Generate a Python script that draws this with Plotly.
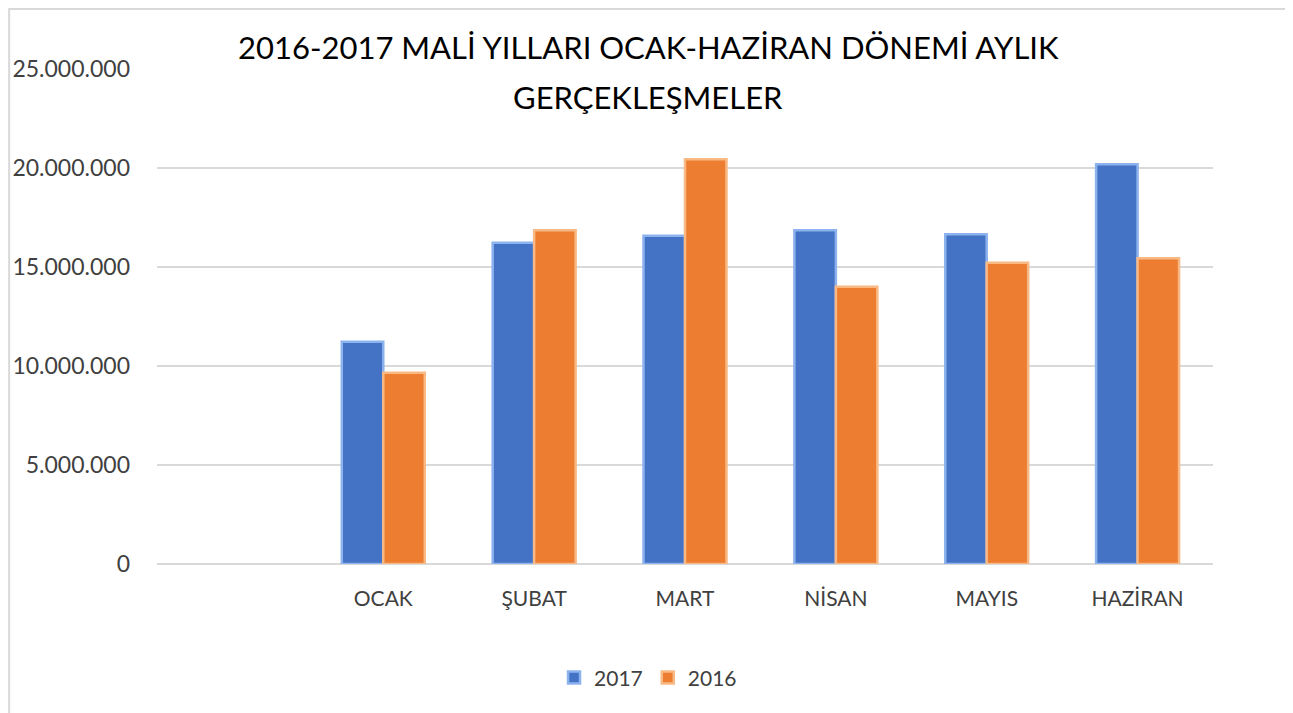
import plotly.graph_objects as go

categories = [" ", "OCAK", "ŞUBAT", "MART", "NİSAN", "MAYIS", "HAZİRAN"]
values_2017 = [None, 11230000, 16230000, 16580000, 16850000, 16650000, 20190000]
values_2016 = [None, 9660000, 16850000, 20440000, 14000000, 15220000, 15440000]
y_ticks = [0, 5000000, 10000000, 15000000, 20000000, 25000000]
title_line1 = "2016-2017 MALİ YILLARI OCAK-HAZİRAN DÖNEMİ AYLIK"
title_line2 = "GERÇEKLEŞMELER"

font_family = "Lato, 'Open Sans', sans-serif"

fig = go.Figure()
fig.add_trace(go.Bar(
    name="2017", x=categories, y=values_2017,
    marker=dict(color="#4472C4", line=dict(color="#8DB3EE", width=2.5)),
))
fig.add_trace(go.Bar(
    name="2016", x=categories, y=values_2016,
    marker=dict(color="#ED7D31", line=dict(color="#F8B984", width=2.5)),
))

fig.update_layout(
    width=1293, height=713,
    margin=dict(l=149, r=88, t=61, b=157),
    paper_bgcolor="white", plot_bgcolor="white",
    separators=",.",
    barmode="group", bargap=0.45, bargroupgap=0.0,
    font=dict(family=font_family, size=20, color="#404040"),
    legend=dict(orientation="h", x=0.465, xanchor="center", y=-0.23, yanchor="middle",
                font=dict(size=21, color="#404040"), itemwidth=30),
    showlegend=True,
)
# title lines as annotations
fig.add_annotation(text=title_line1, xref="paper", yref="paper", x=0.465, y=(556 - 39) / 495,
                   xanchor="center", yanchor="middle", showarrow=False,
                   font=dict(family=font_family, size=31, color="#000000"))
fig.add_annotation(text=title_line2, xref="paper", yref="paper", x=0.465, y=(556 - 89) / 495,
                   xanchor="center", yanchor="middle", showarrow=False,
                   font=dict(family=font_family, size=31, color="#000000"))

fig.update_xaxes(showgrid=False, showline=False, ticks="", tickfont=dict(size=21, color="#404040"),
                 ticklabelstandoff=20, fixedrange=True, automargin=False)
fig.update_yaxes(range=[0, 25000000], tickvals=y_ticks, tickformat=",d",
                 showgrid=True, gridcolor="#D9D9D9", gridwidth=1.5,
                 zeroline=True, zerolinecolor="#D9D9D9", zerolinewidth=1.5,
                 showline=False, ticks="", ticklabelstandoff=26, automargin=False,
                 tickfont=dict(size=23, color="#404040"))
fig.add_shape(type="rect", xref="paper", yref="paper",
              x0=-0.140, x1=1.072, y0=-0.33, y1=1.121,
              line=dict(color="#D9D9D9", width=2), fillcolor="rgba(0,0,0,0)", layer="below")

fig.write_html("out.html")
